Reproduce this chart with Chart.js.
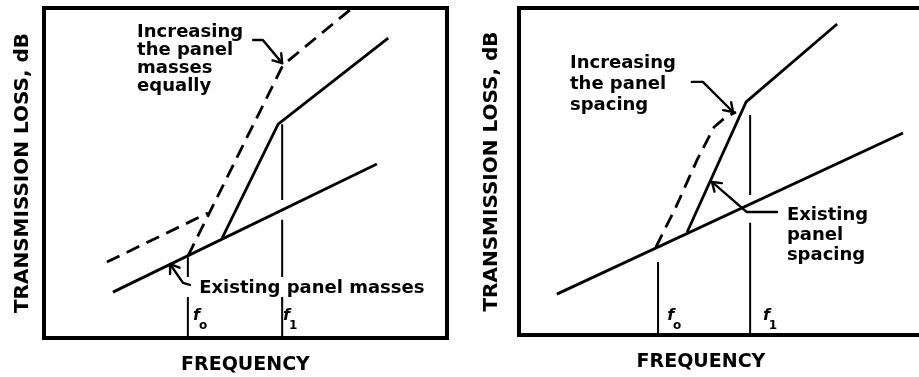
<!DOCTYPE html>
<html>
<head>
<meta charset="utf-8">
<script src="https://cdn.jsdelivr.net/npm/chart.js@4.4.1/dist/chart.umd.min.js"></script>
<style>
  html, body { margin: 0; padding: 0; background: #fff; }
  #wrap { position: relative; width: 919px; height: 377px; overflow: hidden; }
  #cL { position: absolute; left: 0; top: 0; }
  #cR { position: absolute; left: 459px; top: 0; }
</style>
</head>
<body>
<div id="wrap">
  <canvas id="cL" width="459" height="377"></canvas>
  <canvas id="cR" width="460" height="377"></canvas>
</div>
<script>
// ---------- Data (arbitrary units, 0-100 across each frame) ----------
// Left panel: increasing panel masses
const leftExisting     = [[17.1, 13.9], [82.6, 52.7]];
const leftIncreased    = [[44.2, 30.3], [58.1, 64.8], [85.4, 90.9]];
const leftDashedLow    = [[15.6, 23.0], [40.7, 37.9]];
const leftDashedHigh   = [[35.7, 24.8], [59.3, 82.7], [75.9, 99.4]];
const leftF0Segments   = [[24.5, 18.5], [12.4, 0]];
const leftF1Segments   = [[64.8, 41.8], [35.8, 18.5], [12.4, 0]];
const leftF0 = 35.7;
const leftF1 = 59.1;

// Right panel: increasing panel spacing
const rightExisting    = [[10.4, 12.5], [105.5, 61.8]];
const rightIncreased   = [[46.2, 31.5], [62.4, 71.3], [87.4, 95.1]];
const rightDashed      = [[37.6, 26.9], [43.1, 39.1], [48.9, 53.5], [53.6, 63.6], [56.9, 66.7], [59.6, 68.2]];
const rightF0Segments  = [[22.3, 0]];
const rightF1Segments  = [[67.3, 42.8], [34.3, 0]];
const rightF0 = 38.2;
const rightF1 = 63.5;

// Text
const yTitle = 'TRANSMISSION LOSS, dB';
const xTitle = 'FREQUENCY';
const leftNoteTop    = ['Increasing', 'the panel', 'masses', 'equally'];
const leftNoteBottom = ['Existing panel masses'];
const rightNoteTop   = ['Increasing', 'the panel', 'spacing'];
const rightNoteSide  = ['Existing', 'panel', 'spacing'];

// ---------- helpers ----------
const toXY = arr => arr.map(p => ({x: p[0], y: p[1]}));
function vertical(x, segs) {
  const out = [];
  segs.forEach((s, i) => {
    if (i > 0) out.push({x: x, y: null});
    out.push({x: x, y: s[0]});
    out.push({x: x, y: s[1]});
  });
  return out;
}
function ds(data, dashed, width) {
  return {
    data: data, showLine: true, borderColor: '#000', borderWidth: width || 2.8,
    borderDash: dashed ? [14, 8] : [], pointRadius: 0, pointHoverRadius: 0,
    fill: false, tension: 0, spanGaps: false, clip: false
  };
}
const NOTE_FONT = 'bold 18px "DejaVu Sans"';

function annotPlugin(cfg) {
  return {
    id: 'annot',
    afterDatasetsDraw(chart) {
      const ctx = chart.ctx, xs = chart.scales.x, ys = chart.scales.y;
      const px = v => xs.getPixelForValue(v), py = v => ys.getPixelForValue(v);
      const ca = chart.chartArea;
      ctx.save();
      // frame
      ctx.strokeStyle = '#000';
      ctx.lineWidth = 4;
      ctx.lineCap = 'square';
      if (cfg.openRight) {
        ctx.beginPath();
        ctx.moveTo(chart.width + 2, ca.top);
        ctx.lineTo(ca.left, ca.top);
        ctx.lineTo(ca.left, ca.bottom);
        ctx.lineTo(chart.width + 2, ca.bottom);
        ctx.stroke();
      } else {
        ctx.strokeRect(ca.left, ca.top, ca.right - ca.left, ca.bottom - ca.top);
      }
      // notes
      ctx.fillStyle = '#000';
      ctx.font = NOTE_FONT;
      ctx.textBaseline = 'alphabetic';
      ctx.textAlign = 'left';
      cfg.notes.forEach(n => {
        n.lines.forEach((t, i) => ctx.fillText(t, px(n.x), py(n.y) + i * n.lh));
      });
      // arrows
      ctx.lineWidth = 2.4;
      ctx.lineCap = 'round';
      ctx.lineJoin = 'round';
      cfg.arrows.forEach(a => {
        const pts = a.map(p => [px(p[0]), py(p[1])]);
        ctx.beginPath();
        pts.forEach((p, i) => i ? ctx.lineTo(p[0], p[1]) : ctx.moveTo(p[0], p[1]));
        ctx.stroke();
        const t = pts[pts.length - 1], f = pts[pts.length - 2];
        const ang = Math.atan2(t[1] - f[1], t[0] - f[0]);
        const L = 10;
        ctx.beginPath();
        ctx.moveTo(t[0] - L * Math.cos(ang - 0.6), t[1] - L * Math.sin(ang - 0.6));
        ctx.lineTo(t[0], t[1]);
        ctx.lineTo(t[0] - L * Math.cos(ang + 0.6), t[1] - L * Math.sin(ang + 0.6));
        ctx.stroke();
      });
      // f labels
      cfg.fLabels.forEach(l => {
        const x = px(l.x), y = py(l.y);
        ctx.font = 'bold italic 16px "DejaVu Sans"';
        ctx.fillText('f', x, y);
        const w = ctx.measureText('f').width;
        ctx.font = 'bold 12px "DejaVu Sans"';
        ctx.fillText(l.sub, x + w - 1, y + 9);
      });
      ctx.restore();
    }
  };
}

function makeChart(id, datasets, pad, yPad, xPad, cfg) {
  return new Chart(document.getElementById(id), {
    type: 'scatter',
    data: { datasets: datasets },
    options: {
      responsive: false,
      animation: false,
      events: [],
      layout: { padding: pad },
      plugins: { legend: { display: false }, tooltip: { enabled: false } },
      scales: {
        x: {
          type: 'linear', min: 0, max: 100,
          grid: { display: false, drawTicks: false },
          border: { display: false },
          ticks: { display: false },
          title: { display: true, text: xTitle, color: '#000',
                   font: { family: 'DejaVu Sans', size: 19, weight: 'bold', lineHeight: 1 },
                   padding: xPad }
        },
        y: {
          type: 'linear', min: 0, max: 100,
          grid: { display: false, drawTicks: false },
          border: { display: false },
          ticks: { display: false },
          title: { display: true, text: yTitle, color: '#000',
                   font: { family: 'DejaVu Sans', size: 20, weight: 'bold', lineHeight: 1 },
                   padding: yPad }
        }
      }
    },
    plugins: [annotPlugin(cfg)]
  });
}

makeChart('cL', [
  ds(toXY(leftExisting)),
  ds(toXY(leftIncreased)),
  ds(toXY(leftDashedLow), true),
  ds(toXY(leftDashedHigh), true),
  ds(vertical(leftF0, leftF0Segments), false, 2),
  ds(vertical(leftF1, leftF1Segments), false, 2)
], { top: 8, right: 12, left: 0, bottom: 0 },
   { top: 12.5, bottom: 11.5 }, { top: 17.5, bottom: 2.5 },
   {
     openRight: false,
     notes: [
       { lines: leftNoteTop, x: 23.1, y: 91.2, lh: 18 },
       { lines: leftNoteBottom, x: 38.5, y: 13.6, lh: 18 }
     ],
     arrows: [
       [[51.9, 90.3], [54.3, 90.3], [59.1, 83.3]],
       [[36.2, 16.1], [34.5, 16.7], [33.3, 18.8], [31.3, 22.4]]
     ],
     fLabels: [ { x: 37.0, y: 5.5, sub: 'o' }, { x: 59.3, y: 5.5, sub: '1' } ]
   });

makeChart('cR', [
  ds(toXY(rightExisting)),
  ds(toXY(rightIncreased)),
  ds(toXY(rightDashed), true),
  ds(vertical(rightF0, rightF0Segments), false, 2),
  ds(vertical(rightF1, rightF1Segments), false, 2)
], { top: 8, right: 36, left: 0, bottom: 0 },
   { top: 23, bottom: 17 }, { top: 17.5, bottom: 5.5 },
   {
     openRight: true,
     notes: [
       { lines: rightNoteTop, x: 14.0, y: 81.7, lh: 21 },
       { lines: rightNoteSide, x: 73.6, y: 35.2, lh: 20 }
     ],
     arrows: [
       [[47.5, 77.4], [50.5, 77.4], [58.8, 68.2]],
       [[70.9, 37.6], [62.6, 37.6], [53.0, 46.8]]
     ],
     fLabels: [ { x: 40.7, y: 4.6, sub: 'o' }, { x: 67.0, y: 4.6, sub: '1' } ]
   });
</script>
</body>
</html>
